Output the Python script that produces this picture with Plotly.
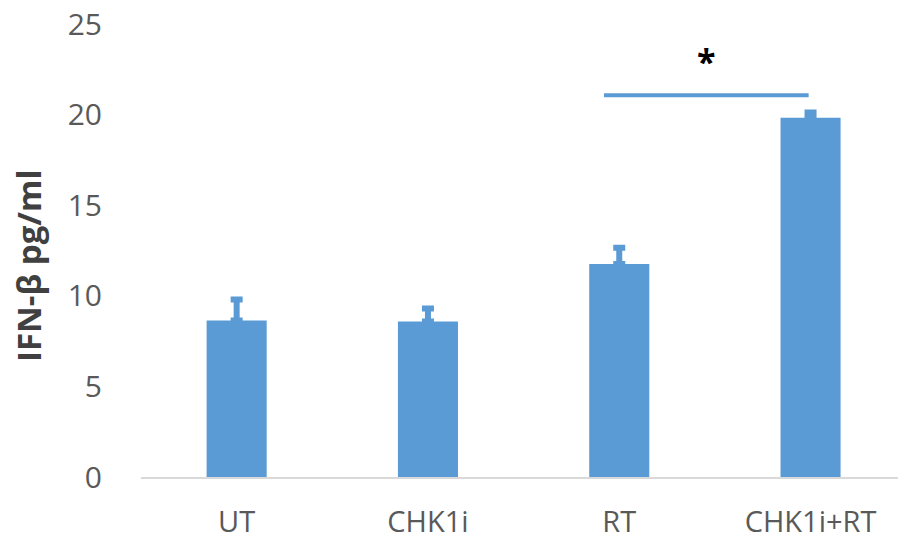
import plotly.graph_objects as go

categories = ["UT", "CHK1i", "RT", "CHK1i+RT"]
values = [8.64, 8.58, 11.75, 19.82]
errors = [1.16, 0.72, 0.90, 0.29]
y_ticks = [0, 5, 10, 15, 20, 25]
y_title = "IFN-β pg/ml"
sig_from = 1.92
sig_to = 2.99
sig_y = 21.07
sig_label = "*"
sig_label_y = 22.95

W, H = 898, 544
L, T, B = 141, 24, 67
plot_w = W - L
cat_px = 191.3
x_max = -0.5 + plot_w / cat_px

blue = "#5B9BD5"
fnt = "Open Sans"

fig = go.Figure()
fig.add_trace(go.Bar(
    x=list(range(len(categories))), y=values, width=0.314,
    marker=dict(color=blue, line=dict(width=0)),
    error_y=dict(type="data", array=errors, symmetric=False, arrayminus=[0]*4,
                 color=blue, thickness=6, width=6),
))
fig.add_trace(go.Scatter(
    x=[sig_from, sig_to], y=[sig_y, sig_y], mode="lines",
    line=dict(color=blue, width=4), hoverinfo="skip"))
fig.add_annotation(x=(2 + 3) / 2 - 0.043, y=sig_label_y, text="<b>" + sig_label + "</b>",
                   showarrow=False, font=dict(family=fnt, size=34, color="#000000"))
fig.add_annotation(xref="paper", yref="paper", x=(28 - L) / plot_w, y=(H - B - 266) / (H - B - T),
                   xanchor="center", yanchor="middle",
                   text="<b>" + y_title + "</b>", textangle=-90, showarrow=False,
                   font=dict(family=fnt, size=33, color="#404040"))

fig.update_layout(
    width=W, height=H, margin=dict(l=L, r=0, t=T, b=B),
    plot_bgcolor="white", paper_bgcolor="white", showlegend=False,
    font=dict(family=fnt, color="#595959", size=28),
    xaxis=dict(range=[-0.5, x_max], tickmode="array", tickvals=list(range(len(categories))),
               ticktext=categories, showgrid=False, zeroline=False,
               showline=True, linecolor="#D9D9D9", linewidth=2,
               ticks="outside", ticklen=18, tickcolor="rgba(0,0,0,0)",
               tickfont=dict(size=29, color="#595959")),
    yaxis=dict(range=[0, 25], tickmode="array", tickvals=y_ticks, showgrid=False,
               zeroline=False, showline=False, ticks="outside", ticklen=32,
               tickcolor="rgba(0,0,0,0)", tickfont=dict(size=30, color="#595959")),
)
fig.write_html("out.html", config={"displayModeBar": False},
               post_script="document.body.style.margin='0';document.body.style.overflow='hidden';")
